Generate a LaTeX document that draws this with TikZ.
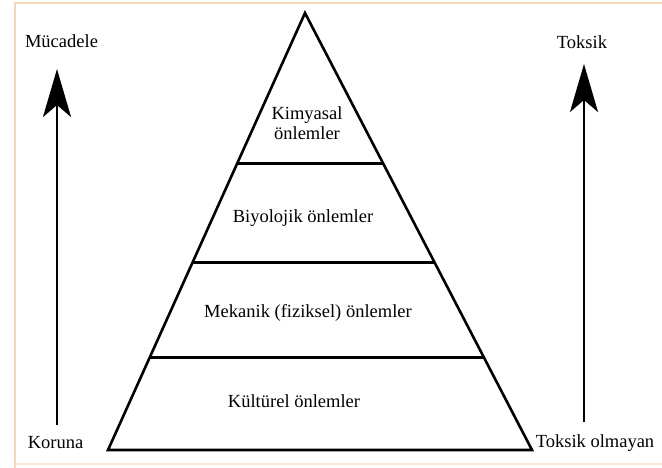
\documentclass[tikz,border=0pt]{standalone}
\usepackage{fontspec}
\setmainfont{Liberation Serif}
\usetikzlibrary{arrows.meta,calc}
\definecolor{framepeach}{RGB}{246,214,184}

\begin{document}
\begin{tikzpicture}[x=1pt,y=-1pt,>={Stealth[length=48pt,width=28pt,inset=12pt]},
  every text node part/.style={align=center},
  lbl/.style={font=\fontsize{18.5}{20}\selectfont,inner sep=0pt,anchor=base}]

\useasboundingbox (0,0) rectangle (662,467);
\draw [framepeach,line width=1.2pt] (15,470) -- (15,3) -- (670,3);
\draw [framepeach!60,line width=1.2pt] (15,464) -- (670,464);

%%%%%%%%%%%%%%%%%%%%%%%%%%%%%%%%%%%%%%

\coordinate (apex) at (305,13);
\coordinate (bl) at (108,450);
\coordinate (br) at (532,450);

\draw [line width=2.6pt,line join=miter] (apex) -- (bl) -- (br) -- cycle;

\draw [line width=3pt] ($(apex)!0.3455!(bl)$) -- ($(apex)!0.3455!(br)$);
\draw [line width=3pt] ($(apex)!0.5698!(bl)$) -- ($(apex)!0.5698!(br)$);
\draw [line width=3pt] ($(apex)!0.7872!(bl)$) -- ($(apex)!0.7872!(br)$);

\node[lbl] (kim) at (307,139) {Kimyasal\\önlemler};
\node[lbl] (bio) at (303,222) {Biyolojik önlemler};
\node[lbl] (mek) at (308,317) {Mekanik (fiziksel) önlemler};
\node[lbl] (kul) at (294,407) {Kültürel önlemler};

%%%%%%%%%%%%%%%%%%%%%%%%%%%%%%%%%%%%%%

\node[lbl] (muc) at (61.5,47) {Mücadele};
\node[lbl] (kor) at (55.5,448) {Koruna};
\coordinate (lbot) at (57,425);
\coordinate (ltop) at (57,69);
\draw [->,line width=2.6pt] (lbot) -- (ltop);

%%%%%%%%%%%%%%%%%%%%%%%%%%%%%%%%%%%%%%

\node[lbl] (tok) at (582,48) {Toksik};
\node[lbl] (tol) at (595,447) {Toksik olmayan};
\coordinate (rbot) at (584,422);
\coordinate (rtop) at (584,64);
\draw [->,line width=2.6pt] (rbot) -- (rtop);

\end{tikzpicture}
\end{document}
